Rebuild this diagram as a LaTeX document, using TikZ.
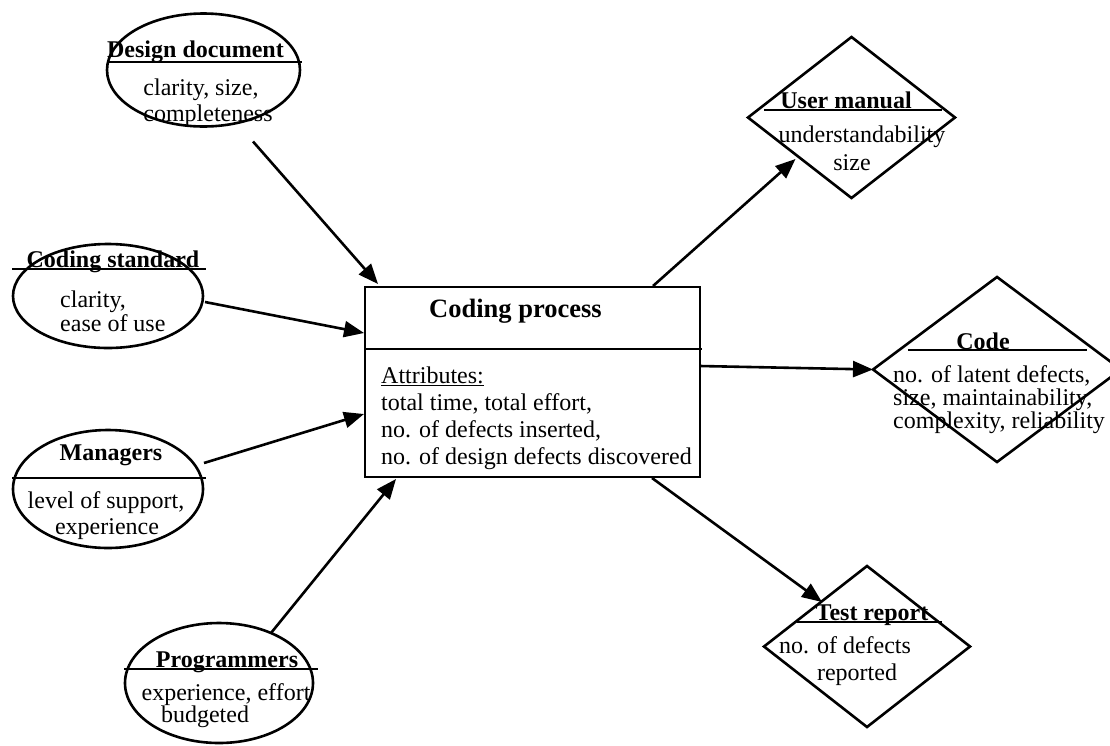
\documentclass[tikz,border=0pt]{standalone}
\usepackage{fontspec}
\setmainfont{Liberation Serif}
\usetikzlibrary{shapes.geometric,arrows.meta,calc}
\begin{document}
\begin{tikzpicture}[x=1pt,y=-1pt,
  shapeline/.style={draw=black,line width=2.6pt},
  entity/.style={shapeline,ellipse,inner sep=0pt,outer sep=0pt},
  product/.style={shapeline,diamond,inner sep=0pt,outer sep=0pt},
  procbox/.style={shapeline,rectangle,inner sep=0pt,outer sep=0pt},
  divider/.style={draw=black,line width=2.6pt},
  flow/.style={draw=black,line width=2.6pt,-{Triangle[length=20pt,width=16pt]}},
  body/.style={inner sep=0pt,anchor=base,font=\fontsize{24}{27}\selectfont},
  bodyl/.style={body,anchor=base west},
  head/.style={body,font=\fontsize{24}{27}\selectfont\bfseries},
  title/.style={body,font=\fontsize{26.5}{30}\selectfont\bfseries}]
\useasboundingbox (0,0) rectangle (1110,745);

% input entities
\node[entity,minimum width=193pt,minimum height=113pt] (dd) at (203.5,70) {};
\node[entity,minimum width=190pt,minimum height=104pt] (cs) at (108,296) {};
\node[entity,minimum width=190pt,minimum height=118pt] (mg) at (108,489) {};
\node[entity,minimum width=188pt,minimum height=120pt] (pg) at (219,683) {};

% central process
\node[procbox,minimum width=335pt,minimum height=190pt] (cp) at (532.5,382) {};

% output products
\node[product,minimum width=207pt,minimum height=161pt] (um) at (851.5,117.5) {};
\node[product,minimum width=248pt,minimum height=185pt] (cd) at (997,369.5) {};
\node[product,minimum width=206pt,minimum height=161pt] (tr) at (867,646.5) {};

% dividing lines
\draw[divider] ($(dd)+(-96,-8)$) -- ($(dd)+(98.5,-8)$);
\draw[divider] ($(cs)+(-96,-27)$) -- ($(cs)+(98,-27)$);
\draw[divider] ($(mg)+(-96,-11)$) -- ($(mg)+(98,-11)$);
\draw[divider] ($(pg)+(-95,-14)$) -- ($(pg)+(99,-14)$);
\draw[divider] ($(cp.north west)+(0,62)$) -- ($(cp.north east)+(2,62)$);
\draw[divider] ($(um)+(-87.5,-7.5)$) -- ($(um)+(90.5,-7.5)$);
\draw[divider] ($(cd)+(-89,-19.5)$) -- ($(cd)+(90,-19.5)$);
\draw[divider] ($(tr)+(-70,-24.5)$) -- ($(tr)+(75,-24.5)$);

% texts of the entities
\node[head] (ddh) at (195.5,57) {Design document};
\node[body] (dd1) at (201,95) {clarity, size,};
\node[body] (dd2) at (208,121) {completeness};

\node[head] (csh) at (113,267) {Coding standard};
\node[bodyl] (cs1) at (60,307) {clarity,};
\node[bodyl] (cs2) at (60,331) {ease of use};

\node[head] (mgh) at (111,460) {Managers};
\node[body] (mg1) at (106,508) {level of support,};
\node[body] (mg2) at (107,534) {experience};

\node[head] (pgh) at (227,667) {Programmers};
\node[body] (pg1) at (226,700) {experience, effort};
\node[body] (pg2) at (205,722) {budgeted};

% texts of the process
\node[title] (cph) at (515.5,317) {Coding process};
\node[bodyl] (cp1) at (381,383) {\underline{Attributes:}};
\node[bodyl] (cp2) at (381,410) {total time, total effort,};
\node[bodyl] (cp3) at (381,437) {no. of defects inserted,};
\node[bodyl] (cp4) at (381,464) {no. of design defects discovered};

% texts of the products
\node[head] (umh) at (846,108) {User manual};
\node[body] (um1) at (862,142) {understandability};
\node[body] (um2) at (852,170) {size};

\node[head] (cdh) at (983,349) {Code};
\node[bodyl] (cd1) at (893,382) {no. of latent defects,};
\node[bodyl] (cd2) at (893,405) {size, maintainability,};
\node[bodyl] (cd3) at (893,428) {complexity, reliability};

\node[head] (trh) at (872,620) {Test report};
\node[body] (tr1) at (845,653) {no. of defects};
\node[body] (tr2) at (857,680) {reported};

% connectors
\draw[flow] ($(dd.south)+(49.5,15)$) -- ($(cp.north west)+(13,-3)$);
\draw[flow] ($(cs.east)+(2,6)$) -- ($(cp.north west)+(-1,46)$);
\draw[flow] ($(mg.east)+(1,-26)$) -- ($(cp.north west)+(-1,127)$);
\draw[flow] ($(pg.north)+(52,10)$) -- ($(cp.south west)+(31,2)$);
\draw[flow] ($(cp.north east)+(-47,-1)$) -- ($(um.south)+(-56,-39)$);
\draw[flow] ($(cp.east)+(0,-16)$) -- (cd.west);
\draw[flow] ($(cp.south east)+(-48,1)$) -- ($(tr.north)+(-45,36)$);
\end{tikzpicture}
\end{document}
